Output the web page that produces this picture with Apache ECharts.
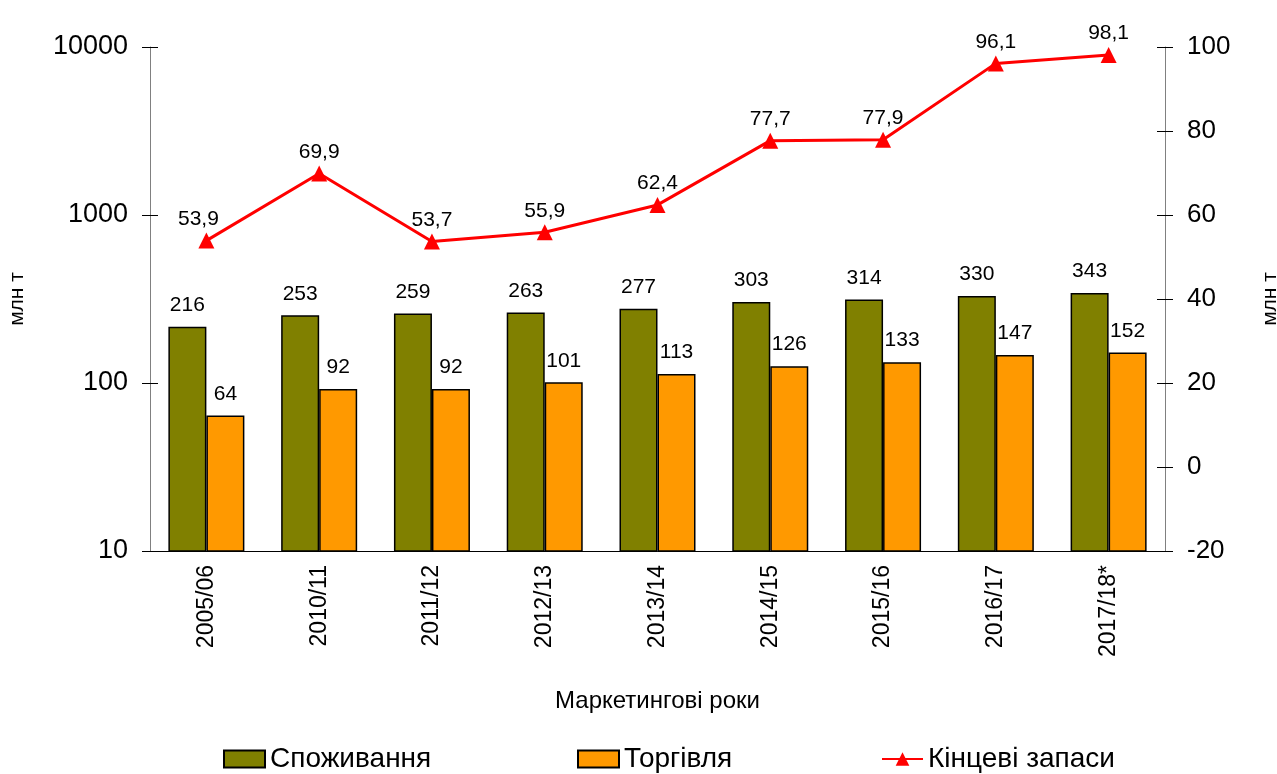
<!DOCTYPE html>
<html>
<head>
<meta charset="utf-8">
<script src="https://cdn.jsdelivr.net/npm/echarts@6/dist/echarts.min.js"></script>
<style>
html, body { margin: 0; padding: 0; background: #fff; }
#chart { width: 1277px; height: 774px; }
</style>
</head>
<body>
<div id="chart"></div>
<script>
var years = ['2005/06', '2010/11', '2011/12', '2012/13', '2013/14', '2014/15', '2015/16', '2016/17', '2017/18*'];
var consumption = [216, 253, 259, 263, 277, 303, 314, 330, 343];
var trade = [64, 92, 92, 101, 113, 126, 133, 147, 152];
var stocks = [53.9, 69.9, 53.7, 55.9, 62.4, 77.7, 77.9, 96.1, 98.1];

var chart = echarts.init(document.getElementById('chart'));
var font = 'Liberation Sans, Arial, sans-serif';

function commaFmt(p) {
    return String(p.value).replace('.', ',');
}

var stockData = stocks.map(function (v, i) {
    // перший підпис трохи зсунутий вліво
    return i === 0 ? { value: v, label: { offset: [-8, 0] } } : v;
});

var legendText = { fontSize: 28, color: '#000', fontFamily: font };
var tickStyle = { color: '#000' };

// додаткові осі лише для внутрішніх рисок (риски перетинають вісь)
function innerY(base) {
    return Object.assign({
        axisLine: { show: false },
        axisTick: { show: true, inside: true, length: 8, lineStyle: tickStyle },
        axisLabel: { show: false },
        splitLine: { show: false }
    }, base);
}

var option = {
    animation: false,
    textStyle: { fontFamily: font },
    grid: { left: 150, right: 112, top: 47, bottom: 223, outerBoundsMode: 'none', containLabel: false },
    legend: [
        { left: 223, top: 745, padding: 0, itemGap: 0, itemWidth: 41, itemHeight: 17, icon: 'rect', data: ['Споживання'], textStyle: legendText },
        { left: 577, top: 745, padding: 0, itemGap: 0, itemWidth: 41, itemHeight: 17, icon: 'rect', data: ['Торгівля'], textStyle: legendText },
        { left: 881, top: 745, padding: 0, itemGap: 0, itemWidth: 41, itemHeight: 17, data: ['Кінцеві запаси'], textStyle: legendText }
    ],
    xAxis: [
        {
            type: 'category',
            data: years,
            name: 'Маркетингові роки',
            nameLocation: 'middle',
            nameGap: 138,
            nameTextStyle: { fontSize: 24, color: '#000' },
            axisLine: { onZero: false, lineStyle: { color: '#000', width: 1 } },
            axisTick: { length: 8, lineStyle: tickStyle },
            axisLabel: { rotate: 90, fontSize: 23, color: '#000', margin: 14 },
            splitLine: { show: false }
        },
        {
            type: 'category',
            data: years,
            position: 'bottom',
            axisLine: { show: false, onZero: false },
            axisTick: { inside: true, length: 8, lineStyle: tickStyle },
            axisLabel: { show: false },
            splitLine: { show: false }
        }
    ],
    yAxis: [
        {
            type: 'log',
            logBase: 10,
            min: 10,
            max: 10000,
            name: 'млн т',
            nameLocation: 'middle',
            nameGap: 122,
            nameRotate: 90,
            nameTextStyle: { fontSize: 21, color: '#000' },
            axisLine: { show: true, lineStyle: { color: '#808080' } },
            axisTick: { show: true, length: 8, lineStyle: tickStyle },
            axisLabel: { fontSize: 27, color: '#000', margin: 22, formatter: function (v) { return String(v); } },
            splitLine: { show: false }
        },
        {
            type: 'value',
            min: -20,
            max: 100,
            interval: 20,
            name: 'млн т',
            nameLocation: 'middle',
            nameGap: 95,
            nameRotate: 90,
            nameTextStyle: { fontSize: 21, color: '#000' },
            axisLine: { show: true, lineStyle: { color: '#808080' } },
            axisTick: { show: true, length: 8, lineStyle: tickStyle },
            axisLabel: { fontSize: 26, color: '#000', margin: 22 },
            splitLine: { show: false }
        },
        innerY({ type: 'log', logBase: 10, min: 10, max: 10000, position: 'left' }),
        innerY({ type: 'value', min: -20, max: 100, interval: 20, position: 'right' })
    ],
    series: [
        {
            name: 'Споживання',
            type: 'bar',
            data: consumption,
            barWidth: 38,
            barGap: '0%',
            itemStyle: { color: '#808000', borderColor: '#000', borderWidth: 1.5 },
            label: { show: true, position: 'top', distance: 11, fontSize: 21, color: '#000' }
        },
        {
            name: 'Торгівля',
            type: 'bar',
            data: trade,
            barWidth: 38,
            barGap: '0%',
            itemStyle: { color: '#FF9900', borderColor: '#000', borderWidth: 1.5 },
            label: { show: true, position: 'top', distance: 11, fontSize: 21, color: '#000' }
        },
        {
            name: 'Кінцеві запаси',
            type: 'line',
            yAxisIndex: 1,
            data: stockData,
            symbol: 'triangle',
            symbolSize: 16,
            lineStyle: { color: '#FF0000', width: 3 },
            itemStyle: { color: '#FF0000' },
            label: { show: true, position: 'top', distance: 3, fontSize: 21, color: '#000', formatter: commaFmt }
        }
    ]
};

chart.setOption(option);
</script>
</body>
</html>
